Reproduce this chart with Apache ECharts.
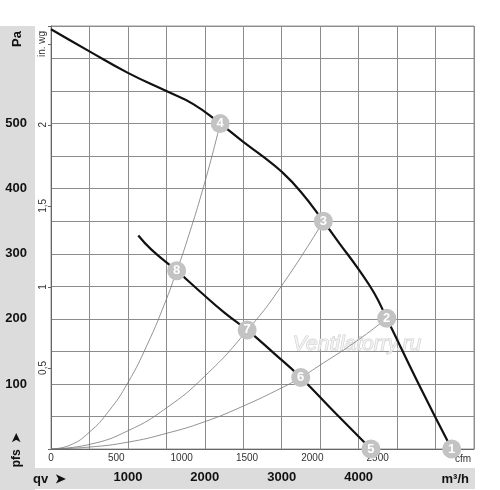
<!DOCTYPE html>
<html>
<head>
<meta charset="utf-8">
<script src="https://cdn.jsdelivr.net/npm/echarts@6/dist/echarts.min.js"></script>
<style>html,body{margin:0;padding:0;background:#fff}#c{width:500px;height:490px}</style>
</head>
<body>
<div id="c"></div>
<script>
// Data (flow in m³/h, static pressure in Pa)
var fanCurveFull = [[0,645],[500,611],[1000,578],[1500,550],[1850,530],[2200,500],[2500,472],[2750,450],[3000,426],[3250,395],[3541,350],[3750,316],[4000,276],[4200,240],[4365,201],[4780,100],[5210,0]];
var fanCurveLow = [[1135,328],[1309,306],[1634,274],[1937,242],[2250,210],[2550,183],[2900,147],[3247,110],[3700,55],[4160,0]];
var systemA = [[0,0],[250,6],[500,26],[750,58],[1000,102],[1250,160],[1500,230],[1634,274],[1750,313],[2000,410],[2200,500]];
var systemB = [[0,0],[500,7],[1000,28],[1500,63],[2000,112],[2550,182],[3000,251],[3541,350]];
var systemC = [[0,0],[500,3],[1000,10.5],[1500,24],[2000,42],[2500,66],[3000,94],[3247,110],[3500,129],[4000,168],[4365,201]];
var pointNames = ['1','2','3','4','5','6','7','8'];
var pointValues = [[5210,0],[4365,201],[3541,350],[2200,500],[4160,0],[3247,110],[2550,183],[1634,274]];
var m3hTicks = [1000,2000,3000,4000];
var cfmTicks = [0,500,1000,1500,2000,2500];
var paTicks = [100,200,300,400,500];
var inwgTicks = {'0.5':'0,5','1':'1','1.5':'1,5','2':'2'};

var FONT = 'Liberation Sans, Arial, sans-serif';
var chart = echarts.init(document.getElementById('c'));
var points = pointNames.map(function(n,i){return {name:n, value:pointValues[i]};});

chart.setOption({
  animation:false,
  backgroundColor:'#fff',
  grid:{left:51, top:26, right:26, bottom:41, show:true, borderColor:'#999', borderWidth:1},
  xAxis:[
    {type:'value', min:0, max:5500, interval:500, position:'bottom',
     axisLine:{show:true, lineStyle:{color:'#666', width:1}}, axisTick:{show:false},
     splitLine:{show:true, lineStyle:{color:'#8c8c8c', width:1}},
     axisLabel:{margin:22, fontFamily:FONT, fontSize:13, fontWeight:'bold', color:'#111',
       showMinLabel:true, showMaxLabel:true,
       formatter:function(v){return m3hTicks.indexOf(v)>=0 ? String(v) : '';}}},
    {type:'value', min:0, max:5500/1.699, interval:500, position:'bottom', offset:0,
     axisLine:{show:false}, axisTick:{show:false}, splitLine:{show:false},
     axisLabel:{margin:4, fontFamily:FONT, fontSize:10, color:'#333',
       formatter:function(v){return cfmTicks.indexOf(v)>=0 ? String(v) : '';}}}
  ],
  yAxis:[
    {type:'value', min:0, max:650, interval:50, position:'left',
     axisLine:{show:true, lineStyle:{color:'#666'}}, axisTick:{show:false},
     splitLine:{show:true, lineStyle:{color:'#8c8c8c', width:1}},
     axisLabel:{margin:24, fontFamily:FONT, fontSize:13, fontWeight:'bold', color:'#111',
       formatter:function(v){return paTicks.indexOf(v)>=0 ? String(v) : '';}}},
    {type:'value', min:0, max:650/249.089, interval:0.5, position:'left', offset:0,
     axisLine:{show:false}, axisTick:{show:true, length:3, lineStyle:{color:'#666'}},
     splitLine:{show:false},
     axisLabel:{margin:3, rotate:90, fontFamily:FONT, fontSize:10, color:'#333',
       formatter:function(v){var k=String(Math.round(v*10)/10); return inwgTicks[k]||'';}}}
  ],
  graphic:[
    {type:'rect', z:-10, shape:{x:0,y:26,width:35,height:464}, style:{fill:'#dcdcdc'}},
    {type:'rect', z:-10, shape:{x:0,y:468,width:475,height:21}, style:{fill:'#dcdcdc'}},
    {type:'text', x:17, y:39, rotation:Math.PI/2, style:{text:'Pa', font:'bold 13px '+FONT, fill:'#111', align:'center', verticalAlign:'middle'}},
    {type:'text', x:42, y:44, rotation:Math.PI/2, style:{text:'in. wg', font:'10px '+FONT, fill:'#333', align:'center', verticalAlign:'middle'}},
    {type:'text', x:17, y:450, rotation:Math.PI/2, style:{text:'pfs  \u27A4', font:'bold 12px '+FONT, fill:'#111', align:'center', verticalAlign:'middle'}},
    {type:'text', x:33, y:479, style:{text:'qv  \u27A4', font:'bold 13px '+FONT, fill:'#111', align:'left', verticalAlign:'middle'}},
    {type:'text', x:469, y:479, style:{text:'m\u00B3/h', font:'bold 13px '+FONT, fill:'#111', align:'right', verticalAlign:'middle'}},
    {type:'text', x:463, y:459, z:5, style:{text:'cfm', font:'10px '+FONT, fill:'#333', align:'center', verticalAlign:'middle'}},
    {type:'text', x:357, y:344, z:1, style:{text:'Ventilatorry.ru', font:'italic 21px '+FONT, fill:'rgba(245,245,245,0.7)', stroke:'#cfcfcf', lineWidth:1, align:'center', verticalAlign:'middle'}}
  ],
  series:[
    {type:'line', data:systemA, smooth:true, symbol:'none', lineStyle:{color:'#777', width:0.8}, z:2},
    {type:'line', data:systemB, smooth:true, symbol:'none', lineStyle:{color:'#777', width:0.8}, z:2},
    {type:'line', data:systemC, smooth:true, symbol:'none', lineStyle:{color:'#777', width:0.8}, z:2},
    {type:'line', data:fanCurveFull, smooth:0.5, symbol:'none', lineStyle:{color:'#111', width:2.2}, z:3},
    {type:'line', data:fanCurveLow, smooth:0.5, symbol:'none', lineStyle:{color:'#111', width:2.2}, z:3},
    {type:'scatter', data:points, symbol:'circle', symbolSize:19, z:6,
     itemStyle:{color:'#c3c3c3', opacity:1},
     label:{show:true, position:'inside', formatter:'{b}', color:'#fff', fontFamily:FONT, fontWeight:'bold', fontSize:13}}
  ]
});
</script>
</body>
</html>
